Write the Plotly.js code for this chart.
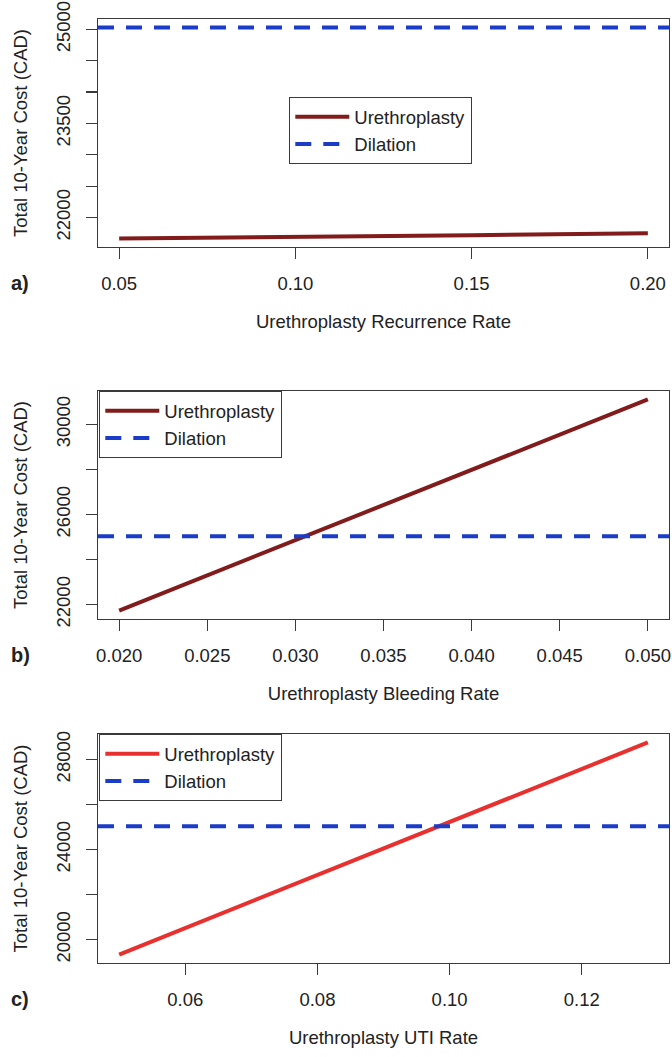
<!DOCTYPE html>
<html>
<head>
<meta charset="utf-8">
<script src="https://cdn.plot.ly/plotly-3.0.1.min.js"></script>
<style>html,body{margin:0;padding:0;background:#fff;}#chart{width:672px;height:1057px;}</style>
</head>
<body>
<div id="chart"></div>
<script>
// ---- Data ----
var seriesNames = ["Urethroplasty", "Dilation"];

var recurrenceRate = [0.05, 0.10, 0.15, 0.20];
var costRecurrence = [21665, 21686, 21718, 21750];

var bleedingRate = [0.020, 0.035, 0.050];
var costBleeding = [21734, 26440, 31107];

var utiRate = [0.05, 0.09, 0.13];
var costUTI = [19336, 24050, 28753];

var dilationCost = 25030;

var xTicksA = [0.05, 0.10, 0.15, 0.20];
var xTickTextA = ["0.05", "0.10", "0.15", "0.20"];
var xTicksB = [0.020, 0.025, 0.030, 0.035, 0.040, 0.045, 0.050];
var xTickTextB = ["0.020", "0.025", "0.030", "0.035", "0.040", "0.045", "0.050"];
var xTicksC = [0.06, 0.08, 0.10, 0.12];
var xTickTextC = ["0.06", "0.08", "0.10", "0.12"];

var yTicksA = [22000, 22500, 23000, 23500, 24000, 24500, 25000];
var yTickTextA = ["22000", "", "", "23500", "", "", "25000"];
var yTicksB = [22000, 24000, 26000, 28000, 30000];
var yTickTextB = ["22000", "", "26000", "", "30000"];
var yTicksC = [20000, 22000, 24000, 26000, 28000];
var yTickTextC = ["20000", "", "24000", "", "28000"];

var xTitles = ["Urethroplasty Recurrence Rate", "Urethroplasty Bleeding Rate", "Urethroplasty UTI Rate"];
var yTitle = "Total 10-Year Cost (CAD)";
var panelLabels = ["a)", "b)", "c)"];

// ---- Helpers ----
function rRange(vals) { // R default 4% expansion
  var mn = Math.min.apply(null, vals), mx = Math.max.apply(null, vals);
  var d = (mx - mn) * 0.04;
  return [mn - d, mx + d];
}

var W = 672, H = 1057;
var mL = 98, mR = 3, mT = 19, mB = 94;
var plotH = H - mT - mB, plotW = W - mL - mR;
function py(pix) { return (H - mB - pix) / plotH; }
function px(pix) { return (pix - mL) / plotW; }

var urColors = ["#821b1b", "#821b1b", "#e8302f"];
var dilColor = "#1a3cc8";
var txtColor = "#222222";
var lineColor = "#3a3a3a";
var fontFam = "Liberation Sans, Arial, Helvetica, sans-serif";
var fs = 18.5;

var panels = [
  {x: recurrenceRate, y: costRecurrence, xt: xTicksA, xtt: xTickTextA, yt: yTicksA, ytt: yTickTextA, top: 19, bot: 247, leg: {x: 289, y: 97}},
  {x: bleedingRate, y: costBleeding, xt: xTicksB, xtt: xTickTextB, yt: yTicksB, ytt: yTickTextB, top: 391, bot: 619, leg: {x: 99, y: 391}},
  {x: utiRate, y: costUTI, xt: xTicksC, xtt: xTickTextC, yt: yTicksC, ytt: yTickTextC, top: 734, bot: 963, leg: {x: 99, y: 734}}
];

var traces = [];
var layout = {
  width: W, height: H,
  margin: {l: mL, r: mR, t: mT, b: mB, pad: 0},
  paper_bgcolor: "#ffffff", plot_bgcolor: "#ffffff",
  font: {family: fontFam, size: fs, color: txtColor},
  showlegend: true,
  annotations: []
};

panels.forEach(function (p, i) {
  var sfx = i === 0 ? "" : String(i + 1);
  var xr = rRange(p.x);
  var yr = rRange(p.y.concat([dilationCost]));
  var legName = "legend" + sfx;
  traces.push({
    type: "scatter", mode: "lines", name: seriesNames[0],
    x: p.x, y: p.y, xaxis: "x" + sfx, yaxis: "y" + sfx, legend: legName,
    line: {color: urColors[i], width: 4}, hoverinfo: "x+y"
  });
  traces.push({
    type: "scatter", mode: "lines", name: seriesNames[1],
    x: [xr[0], xr[1]], y: [dilationCost, dilationCost], xaxis: "x" + sfx, yaxis: "y" + sfx, legend: legName,
    line: {color: dilColor, width: 4, dash: "16px,12px"}, hoverinfo: "y"
  });
  var axCommon = {
    showgrid: false, zeroline: false, showline: true, mirror: true,
    linecolor: lineColor, linewidth: 1.3, ticks: "outside", ticklen: 11,
    tickcolor: lineColor, tickwidth: 1.3, tickfont: {size: fs, color: txtColor},
    fixedrange: true
  };
  layout["xaxis" + sfx] = Object.assign({}, axCommon, {
    domain: [0, 1], anchor: "y" + sfx, range: xr,
    tickmode: "array", tickvals: p.xt, ticktext: p.xtt,
    ticklabelstandoff: 8,
    title: {text: xTitles[i], font: {size: fs, color: txtColor}, standoff: 22}
  });
  layout["yaxis" + sfx] = Object.assign({}, axCommon, {
    domain: [py(p.bot), py(p.top)], anchor: "x" + sfx, range: yr,
    tickmode: "array", tickvals: p.yt, ticktext: p.ytt, tickangle: -90,
    ticklabelstandoff: 8,
    title: {text: yTitle, font: {size: fs, color: txtColor}, standoff: 20}
  });
  layout[legName] = {
    x: px(p.leg.x), y: py(p.leg.y), xanchor: "left", yanchor: "top",
    xref: "paper", yref: "paper",
    bgcolor: "#ffffff", bordercolor: lineColor, borderwidth: 1.3,
    itemwidth: 54, entrywidth: 135, entrywidthmode: "pixels",
    font: {size: fs, color: txtColor}, traceorder: "normal"
  };
  layout.annotations.push({
    text: "<b>" + panelLabels[i] + "</b>", xref: "paper", yref: "paper",
    x: px(20), y: py(p.bot + 36), xanchor: "center", yanchor: "middle",
    showarrow: false, font: {size: 20, color: txtColor}
  });
});

Plotly.newPlot("chart", traces, layout, {displayModeBar: false, staticPlot: true});
</script>
</body>
</html>
